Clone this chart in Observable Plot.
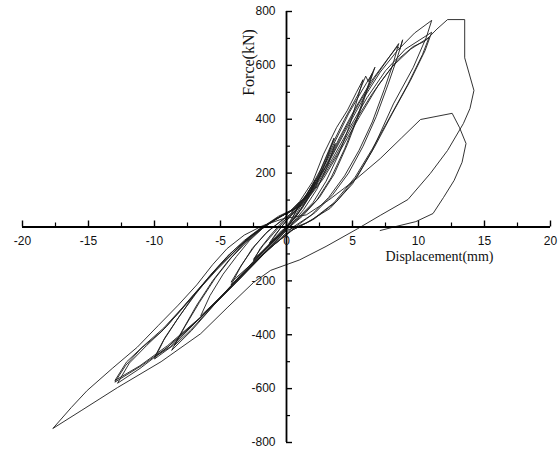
<!DOCTYPE html>
<html><head><meta charset="utf-8">
<script src="https://cdn.jsdelivr.net/npm/d3@7"></script>
<script src="https://cdn.jsdelivr.net/npm/@observablehq/plot@0.6"></script>
<style>body{margin:0;background:#fff}#chart{width:559px;height:450px}</style>
</head><body><div id="chart"></div>
<script>
// Axis ticks
const xTicks = [-20, -15, -10, -5, 0, 5, 10, 15, 20];
const xMinorTicks = [-17.5, -12.5, -7.5, -2.5, 2.5, 7.5, 12.5, 17.5];
const yTicks = [-800, -600, -400, -200, 200, 400, 600, 800];
const yMinorTicks = [-700, -500, -300, -100, 100, 300, 500, 700];
const xTitle = "Displacement(mm)";
const yTitle = "Force(kN)";

// Hysteresis record [displacement mm, force kN], in loading order
const loopsAt1mm = [
  [0,0],[0.5,40],[1.0,85],[0.6,45],[0.2,10],[-0.3,-20],[-0.8,-45],[-1.3,-65],[-0.9,-35],[-0.4,0],
  [0.1,30],[0.6,55],[1.1,80],[0.6,35],[0.1,0],[-0.5,-30],[-1.3,-60],[-0.8,-25],[-0.3,5]
];
const loopsAt2mm = [
  [0.3,40],[1.2,95],[2.2,175],[1.6,110],[0.8,45],[0,0],[-1,-50],[-1.8,-90],[-2.5,-125],[-2,-80],[-1.2,-30],[-0.4,15],
  [0.5,50],[1.4,100],[2.2,165],[1.5,95],[0.6,30],[-0.3,-15],[-1.3,-65],[-2.5,-120],[-1.8,-70],[-1,-25],[-0.2,20]
];
const loopsAt4mm = [
  [0.5,60],[1.6,125],[2.6,215],[3.6,330],[3.0,245],[2.2,150],[1.2,70],[0.2,10],[-1,-50],[-2.5,-130],[-4.2,-215],[-3.5,-150],[-2.6,-80],[-1.6,-25],[-0.5,20],
  [0.8,65],[1.8,130],[2.8,220],[3.7,310],[3.1,225],[2.3,140],[1.3,65],[0.3,5],[-1,-55],[-2.6,-135],[-4.2,-205],[-3.4,-140],[-2.4,-70],[-1.4,-15],[-0.3,25]
];
const loopsAt6mm = [
  [0.2,55],[1,95],[2,170],[2.8,270],[3.8,370],[4.6,432],[5.3,500],[5.8,547],
  [5.4,480],[4.8,380],[4.0,275],[3.0,170],[2.0,90],[0.8,30],[-0.4,-15],
  [-1.8,-90],[-3.5,-180],[-5,-260],[-6.5,-330],
  [-5.8,-255],[-4.8,-175],[-3.8,-110],[-2.8,-50],[-1.8,-5],[-0.8,30],
  [0.2,55],[1.3,105],[2.4,190],[3.4,300],[4.4,400],[5.4,490],[6.0,560],[6.2,540],[6.7,593],
  [6.2,520],[5.5,420],[4.6,305],[3.6,195],[2.5,110],[1.2,40],[0,-10],
  [-1.5,-85],[-3.5,-190],[-5.5,-290],[-7.2,-385],[-8.7,-458],
  [-7.9,-385],[-6.8,-290],[-5.6,-200],[-4.4,-125],[-3.2,-60],[-2,-10],[-0.8,30],
  [0.4,60],[1.5,115],[2.6,205],[3.6,310],[4.7,420],[5.7,505],[6.5,570],
  [6.0,500],[5.3,400],[4.4,290],[3.4,185],[2.3,100],[1.0,35],[-0.2,-15],
  [-1.7,-90],[-3.7,-195],[-5.7,-300],[-7.3,-385],[-8.5,-440],
  [-7.7,-370],[-6.6,-280],[-5.4,-190],[-4.2,-115],[-3,-55],[-1.9,-8],[-0.7,32]
];
const loopsAt9mm = [
  [0.5,65],[1.7,125],[2.9,220],[4.0,330],[5.2,440],[6.4,540],[7.6,620],[8.4,670],[8.6,660],[8.8,695],
  [8.4,630],[7.7,530],[6.8,410],[5.8,300],[4.7,200],[3.5,120],[2.2,55],[0.8,5],
  [-0.8,-60],[-2.6,-140],[-4.6,-240],[-6.8,-350],[-8.6,-440],[-10,-490],
  [-9.3,-420],[-8.3,-345],[-7.1,-260],[-5.8,-180],[-4.5,-110],[-3.2,-50],[-2,-5],[-0.8,30],
  [0.6,65],[1.9,135],[3.1,235],[4.3,350],[5.5,460],[6.7,555],[7.7,625],[8.5,681],
  [8.1,610],[7.4,510],[6.5,390],[5.5,285],[4.4,190],[3.2,110],[1.9,45],[0.5,0],
  [-1,-65],[-2.8,-150],[-4.8,-250],[-7,-360],[-8.8,-445],[-10,-483],
  [-9.2,-410],[-8.1,-330],[-6.9,-250],[-5.6,-170],[-4.3,-100],[-3,-45],[-1.9,-5],[-0.7,32]
];
const loopsAt11mm = [
  [0.7,70],[2,140],[3.2,240],[4.5,360],[5.8,475],[7.1,575],[8.4,655],[9.7,720],[11,767],
  [10.6,705],[9.6,592],[8.1,457],[6.5,284],[5,160],[3.3,69],[1.5,15],[0,-13],
  [-1.5,-87],[-4,-210],[-6.5,-335],[-9,-446],[-11,-515],[-13,-576],
  [-12.2,-515],[-11,-450],[-9.5,-390],[-8.1,-315],[-6.6,-230],[-5.3,-160],[-4,-95],[-2.9,-40],[-1.8,0],[-0.6,40],
  [0.9,75],[2.2,150],[3.5,255],[4.8,370],[6.1,480],[7.5,580],[9,660],[11,723],
  [10.5,655],[9.4,545],[8,420],[6.7,300],[5.4,190],[3.8,95],[2.1,30],[0.5,-10],
  [-1.2,-75],[-3.8,-205],[-6.4,-330],[-9,-440],[-11.1,-515],[-13,-570],
  [-12.1,-500],[-10.8,-440],[-9.3,-375],[-7.9,-300],[-6.4,-215],[-5.1,-145],[-3.8,-85],[-2.7,-35],[-1.6,5],[-0.4,42],
  [1.1,80],[2.5,165],[3.8,270],[5.1,385],[6.5,495],[8,595],[9.4,660],[10.8,704],
  [10.3,640],[9.2,530],[7.8,405],[6.5,290],[5.2,185],[3.6,90],[1.9,25],[0.3,-15],
  [-1.4,-85],[-3.9,-210],[-6.5,-337],[-9.1,-450],[-11.1,-525],[-12.8,-580],
  [-11.9,-505],[-10.6,-440],[-9.1,-370],[-7.7,-290],[-6.2,-205],[-4.9,-135],[-3.6,-75],[-2.5,-28],[-1.4,10],[-0.2,45]
];
const peakCycle = [
  [1.3,85],[2.8,180],[4.2,295],[5.6,415],[7,530],[8.4,620],[9.6,670],[10.5,690],[11.4,735],[12.2,770],
  [13.5,770],[13.5,628],[14.2,507],[13.9,440],[13.4,384],[12.2,284],[10.9,199],[9.2,102],[7.1,43],[5.4,-6],
  [3,-72],[1,-122],[-1.2,-161],[-2.5,-206],[-4.5,-300],[-6.5,-396],[-9.5,-500],[-12.8,-596],[-15.5,-680],[-17.7,-748],
  [-16.3,-670],[-15.1,-607],[-13.2,-525],[-11.3,-446],[-9.7,-365],[-8.2,-290],[-6.8,-215],[-5.6,-140],[-4.5,-80],[-3.2,-30],[-1.8,5],[-0.3,30]
];
const finalCycle = [
  [1.5,45],[3.2,100],[5.2,175],[7.1,254],[8.7,330],[10.15,399],[11.4,411],[12.55,422],
  [13.1,370],[13.6,310],[13.3,240],[12.7,173],[11.9,110],[11.1,50],[9.8,20],[8.3,2],[7.1,-13]
];

const record = [...loopsAt1mm, ...loopsAt2mm, ...loopsAt4mm, ...loopsAt6mm, ...loopsAt9mm, ...loopsAt11mm, ...peakCycle, ...finalCycle]
  .map(([d, f]) => ({d, f}));

const tickFont = "Liberation Sans, Arial, sans-serif";
const titleFont = "Liberation Serif, Times New Roman, serif";

const chart = Plot.plot({
  width: 559,
  height: 450,
  marginLeft: 22,
  marginRight: 9,
  marginTop: 11,
  marginBottom: 8,
  x: {domain: [-20, 20], axis: null},
  y: {domain: [-800, 800], axis: null},
  style: {background: "#fff", overflow: "visible"},
  marks: [
    Plot.line(record, {x: "d", y: "f", stroke: "#1c1c1c", strokeWidth: 0.9, strokeLinejoin: "round"}),
    Plot.ruleY([0], {stroke: "#000", strokeWidth: 1.8}),
    Plot.ruleX([0], {stroke: "#000", strokeWidth: 1.8}),
    Plot.ruleX(xTicks, {x: d => d, y1: 0, y2: 0, insetTop: -6, stroke: "#000", strokeWidth: 1.4}),
    Plot.ruleX(xMinorTicks, {x: d => d, y1: 0, y2: 0, insetTop: -4, stroke: "#000", strokeWidth: 1.2}),
    Plot.ruleY(yTicks, {y: d => d, x1: 0, x2: 0, insetRight: -6, stroke: "#000", strokeWidth: 1.4}),
    Plot.ruleY(yMinorTicks, {y: d => d, x1: 0, x2: 0, insetRight: -4, stroke: "#000", strokeWidth: 1.2}),
    Plot.text(xTicks, {x: d => d, y: 0, dy: 14, text: d => String(d), fontSize: 12, fontFamily: tickFont, fill: "#111"}),
    Plot.text(yTicks, {x: 0, y: d => d, dx: -11, text: d => String(d), textAnchor: "end", fontSize: 12, fontFamily: tickFont, fill: "#111"}),
    Plot.text([yTitle], {x: 0, y: 800, dx: -38, dy: 51, text: d => d, rotate: -90, fontSize: 16, fontFamily: titleFont, fill: "#111"}),
    Plot.text([xTitle], {x: 20, y: 0, dx: -57, dy: 30, text: d => d, textAnchor: "end", fontSize: 14, fontFamily: titleFont, fill: "#111"})
  ]
});
document.getElementById("chart").appendChild(chart);
</script>
</body></html>
